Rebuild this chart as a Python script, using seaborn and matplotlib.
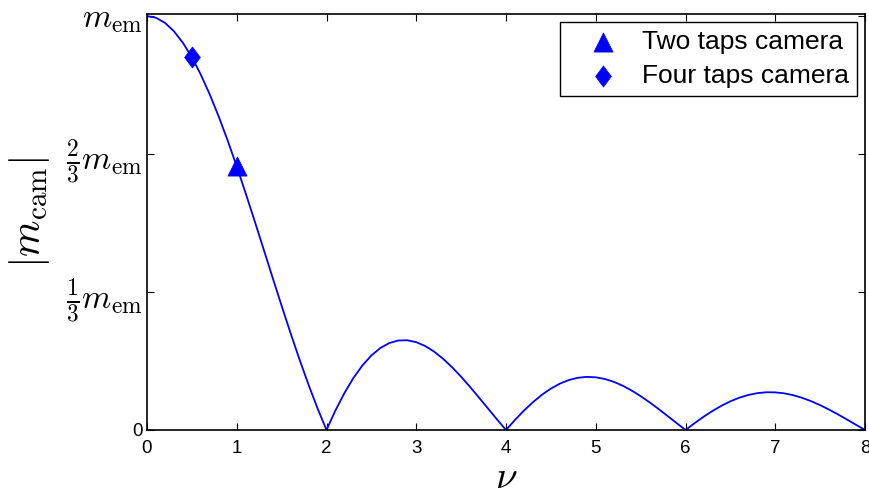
import numpy as np
import pandas as pd
import matplotlib
matplotlib.use("Agg")
import matplotlib.pyplot as plt
import seaborn as sns
from matplotlib.path import Path

# Normalised camera modulation magnitude |m_cam| / m_em versus nu
nu = [round(0.1 * i, 1) for i in range(81)]
m_cam = [
    1.00000, 0.99589, 0.98363, 0.96340, 0.93549, 0.90032, 0.85839, 0.81033, 0.75683, 0.69865,
    0.63662, 0.57162, 0.50455, 0.43633, 0.36788, 0.30011, 0.23387, 0.17001, 0.10929, 0.05242,
    0.00000, 0.04742, 0.08942, 0.12566, 0.15592, 0.18006, 0.19809, 0.21009, 0.21624, 0.21682,
    0.21221, 0.20283, 0.18921, 0.17189, 0.15148, 0.12862, 0.10394, 0.07811, 0.05177, 0.02554,
    0.00000, 0.02429, 0.04684, 0.06721, 0.08505, 0.10004, 0.11196, 0.12069, 0.12614, 0.12832,
    0.12732, 0.12329, 0.11644, 0.10703, 0.09538, 0.08185, 0.06682, 0.05071, 0.03392, 0.01688,
    0.00000, 0.01633, 0.03173, 0.04588, 0.05847, 0.06926, 0.07804, 0.08466, 0.08904, 0.09113,
    0.09095, 0.08856, 0.08409, 0.07770, 0.06960, 0.06002, 0.04924, 0.03754, 0.02522, 0.01261,
    0.00000,
]

# Operating points of the two cameras
camera_names = ["Two taps camera", "Four taps camera"]
camera_nu = [1.0, 0.5]
camera_m = [0.63662, 0.90032]

ytick_values = [0, 1 / 3, 2 / 3, 1]
ytick_labels = ["0", r"$\frac{1}{3}m_{\rm em}$", r"$\frac{2}{3}m_{\rm em}$", r"$m_{\rm em}$"]
xtick_values = list(range(9))

sns.set_theme(style="white")
plt.rcParams["font.family"] = ["Liberation Sans", "DejaVu Sans"]
plt.rcParams["mathtext.fontset"] = "cm"
plt.rcParams["text.color"] = "black"
plt.rcParams["axes.labelcolor"] = "black"

fig = plt.figure(figsize=(8.69, 4.95), dpi=100)
ax = fig.add_axes([147 / 869, 1 - 430 / 495, (865 - 147) / 869, (430 - 14) / 495])

curve = pd.DataFrame({"nu": nu, "m": m_cam})
sns.lineplot(data=curve, x="nu", y="m", color="#0000ff", linewidth=1.3, ax=ax, legend=False)

thin_diamond = Path([(0, 1), (0.75, 0), (0, -1), (-0.75, 0), (0, 1)],
                    [Path.MOVETO, Path.LINETO, Path.LINETO, Path.LINETO, Path.CLOSEPOLY])
markers = ["^", thin_diamond]
sizes = [190, 230]
for name, x, y, mk, s in zip(camera_names, camera_nu, camera_m, markers, sizes):
    sns.scatterplot(x=[x], y=[y], marker=mk, s=s, color="#0000ff", edgecolor="#0000ff",
                    linewidth=0.5, ax=ax, label=name, zorder=5)

ax.set_xlim(0, 8)
ax.set_ylim(0, 1.005)
ax.set_xticks(xtick_values)
ax.set_xticklabels([str(v) for v in xtick_values])
ax.set_yticks(ytick_values)
ax.set_yticklabels(ytick_labels)
ax.tick_params(axis="x", labelsize=13.5, direction="in", length=5, width=0.8,
               top=True, bottom=True, colors="black", pad=7)
ax.tick_params(axis="y", labelsize=24, direction="in", length=5, width=0.8,
               left=True, right=True, colors="black", pad=3)
ax.yaxis.get_ticklabels()[0].set_fontsize(13.5)

for sp in ax.spines.values():
    sp.set_visible(True)
    sp.set_color("black")
    sp.set_linewidth(1.2)

ax.set_xlabel(r"$\nu$", fontsize=28, labelpad=2)
ax.set_ylabel(r"$|m_{\rm cam}|$", fontsize=30)
ax.yaxis.set_label_coords(-0.133, 0.524)

leg = ax.legend(loc="upper right", fontsize=19, frameon=True, fancybox=False,
                borderaxespad=0.3, handletextpad=0.2, borderpad=0.3, labelspacing=0.4,
                handlelength=2.6)
leg.get_frame().set_edgecolor("black")
leg.get_frame().set_linewidth(1.0)
leg.get_frame().set_alpha(1)
for t in leg.get_texts():
    t.set_color("black")

fig.savefig("out.png", dpi=100)
